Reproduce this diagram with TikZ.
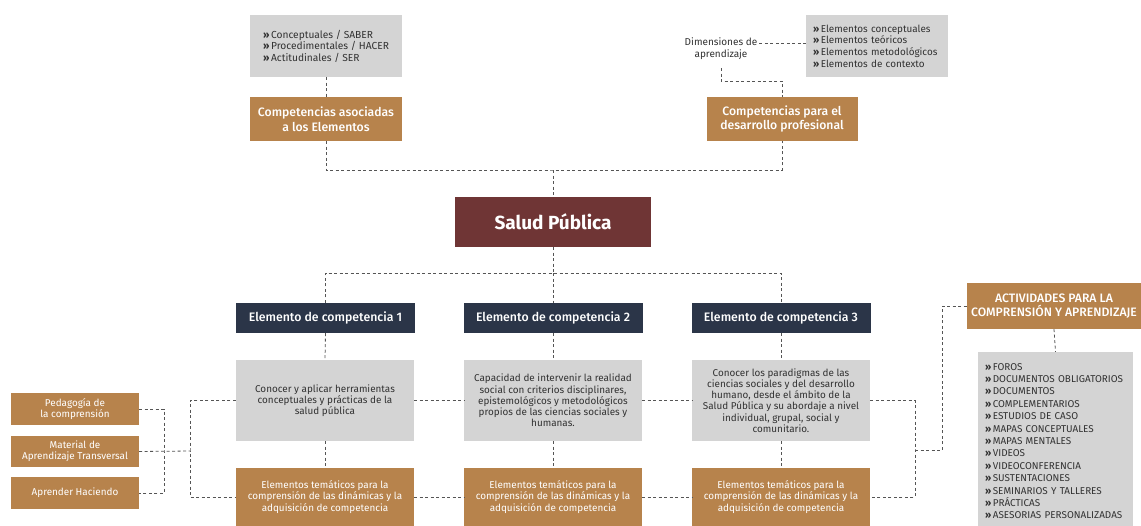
\documentclass[tikz,border=0pt]{standalone}
\usepackage{fontspec}
\setmainfont{Fira Sans}
\IfFontExistsTF{Fira Sans Medium}{\newfontfamily\medf{Fira Sans Medium}}{\newfontfamily\medf{Fira Sans}}
\definecolor{gbg}{RGB}{212,212,212}
\definecolor{gtxt}{RGB}{50,50,50}
\definecolor{orng}{RGB}{183,131,76}
\definecolor{maroon}{RGB}{111,53,53}
\definecolor{navy}{RGB}{43,53,72}
\definecolor{dlc}{RGB}{85,85,85}
\newcommand{\bl}{{\bfseries »}\,}
\begin{document}
\begin{tikzpicture}[x=1pt,y=-1pt,
  gbox/.style={fill=gbg, text=gtxt, inner sep=0pt, align=center, font=\fontsize{9.9}{11.2}\selectfont},
  obox/.style={fill=orng, text=white, inner sep=0pt, align=center, font=\fontsize{9.9}{11.2}\selectfont},
  otitle/.style={fill=orng, text=white, inner sep=0pt, align=center, font=\medf\fontsize{12.2}{14.5}\selectfont},
  ebox/.style={fill=navy, text=white, inner sep=0pt, align=center, minimum width=179pt, minimum height=30pt, font=\medf\fontsize{12.3}{14}\selectfont},
  dl/.style={draw=dlc, line width=0.8pt, dash pattern=on 3pt off 2.5pt}]
\useasboundingbox (0,0) rectangle (1141,525);
\fill[white] (0,0) rectangle (1141,525);

% top left
\node[gbox, align=left, minimum width=152pt, minimum height=62pt, font=\fontsize{10.2}{11.5}\selectfont] (tlg) at (326,46)
  {\bl Conceptuales / SABER\\\bl Procedimentales / HACER\\\bl Actitudinales / SER};
\node[otitle, minimum width=152pt, minimum height=44pt] (tlo) at (326,119)
  {Competencias asociadas\\a los Elementos};

% top right
\node[gbox, align=left, text width=128pt, minimum width=142pt, minimum height=62pt, font=\fontsize{9.9}{11.6}\selectfont] (trg) at (877,46)
  {\bl Elementos conceptuales\\\bl Elementos teóricos\\\bl Elementos metodológicos\\\bl Elementos de contexto};
\node[text=gtxt, align=center, inner sep=2pt, font=\fontsize{10}{12}\selectfont] (dim) at (721,49)
  {Dimensiones de\\aprendizaje};
\node[otitle, minimum width=151pt, minimum height=44pt] (tro) at (782,119)
  {Competencias para el\\desarrollo profesional};

% center
\node[fill=maroon, text=white, inner sep=0pt, minimum width=196pt, minimum height=50pt,
  font=\bfseries\fontsize{19}{22}\selectfont] (salud) at (553,222) {Salud Pública};

% elements
\node[ebox] (e1) at (325.5,318) {Elemento de competencia 1};
\node[ebox] (e2) at (553,318) {Elemento de competencia 2};
\node[ebox] (e3) at (781,318) {Elemento de competencia 3};

\node[gbox, minimum width=178pt, minimum height=81pt] (g1) at (325,400.5)
  {Conocer y aplicar herramientas\\conceptuales y prácticas de la\\salud pública};
\node[gbox, minimum width=178pt, minimum height=81pt] (g2) at (553,400.5)
  {Capacidad de intervenir la realidad\\social con criterios disciplinares,\\epistemológicos y metodológicos\\propios de las ciencias sociales y\\humanas.};
\node[gbox, minimum width=178pt, minimum height=81pt] (g3) at (781,400.5)
  {Conocer los paradigmas de las\\ciencias sociales y del desarrollo\\humano, desde el ámbito de la\\Salud Pública y su abordaje a nivel\\individual, grupal, social y\\comunitario.};

\node[obox, minimum width=178pt, minimum height=58pt] (o1) at (325,497)
  {Elementos temáticos para la\\comprensión de las dinámicas y la\\adquisición de competencia};
\node[obox, minimum width=178pt, minimum height=58pt] (o2) at (553,497)
  {Elementos temáticos para la\\comprensión de las dinámicas y la\\adquisición de competencia};
\node[obox, minimum width=178pt, minimum height=58pt] (o3) at (781,497)
  {Elementos temáticos para la\\comprensión de las dinámicas y la\\adquisición de competencia};

% left boxes
\node[obox, minimum width=128pt, minimum height=32pt] (p) at (75,409) {Pedagogía de\\la comprensión};
\node[obox, minimum width=128pt, minimum height=31pt] (m) at (75,451.5) {Material de\\Aprendizaje Transversal};
\node[obox, minimum width=128pt, minimum height=32pt] (a) at (75,493) {Aprender Haciendo};

% right boxes
\node[otitle, minimum width=174pt, minimum height=46pt] (act) at (1054,306)
  {ACTIVIDADES PARA LA\\COMPRENSIÓN Y APRENDIZAJE};
\node[gbox, align=left, text width=141pt, minimum width=155pt, minimum height=178pt,
  font=\fontsize{9.9}{12.4}\selectfont] (list) at (1055.5,441)
  {\bl FOROS\\\bl DOCUMENTOS OBLIGATORIOS\\\bl DOCUMENTOS\\\bl COMPLEMENTARIOS\\\bl ESTUDIOS DE CASO\\\bl MAPAS CONCEPTUALES\\\bl MAPAS MENTALES\\\bl VIDEOS\\\bl VIDEOCONFERENCIA\\\bl SUSTENTACIONES\\\bl SEMINARIOS Y TALLERES\\\bl PRÁCTICAS\\\bl ASESORIAS PERSONALIZADAS};

% coordinates
\coordinate (dt) at ([yshift=3pt]trg.west);
\coordinate (dk) at (721,81);
\coordinate (tb) at (553,170);
\coordinate (bb) at (553,273);
\coordinate (rx) at (915,450);
\coordinate (ax) at (942,450);
\coordinate (lx) at (164,451);
\coordinate (lx2) at (190,451);

% connectors
\draw[dl] (tlg.south) -- (tlo.north);
\draw[dl] (dim.east |- dt) -- (dt);
\draw[dl] ([yshift=-6pt]dim.south) -- (dk) -| (tro.north);
\draw[dl] (tlo.south) |- (tb) -| (tro.south);
\draw[dl] (tb) -- (salud.north);
\draw[dl] (salud.south) -- (bb);
\draw[dl] (e1.north) |- (bb) -| (e3.north);
\draw[dl] (bb) -- (e2.north);
\foreach \i in {1,2,3}{
  \draw[dl] (e\i.south) -- (g\i.north);
  \draw[dl] (g\i.south) -- (o\i.north);
}
\draw[dl] (g1.east) -- (g2.west);
\draw[dl] (g2.east) -- (g3.west);
\draw[dl] (o1.east) -- (o2.west);
\draw[dl] (o2.east) -- (o3.west);
\draw[dl] (g3.east) -| (rx) |- (o3.east);
\draw[dl] (rx) -- (ax) |- (act.west);
\draw[dl] (act.south) -- (list.north);
\draw[dl] (p.east) -| (lx) |- (a.east);
\draw[dl] (m.east) -- (lx2);
\draw[dl] (g1.west) -| (lx2) |- (o1.west);
\end{tikzpicture}
\end{document}
